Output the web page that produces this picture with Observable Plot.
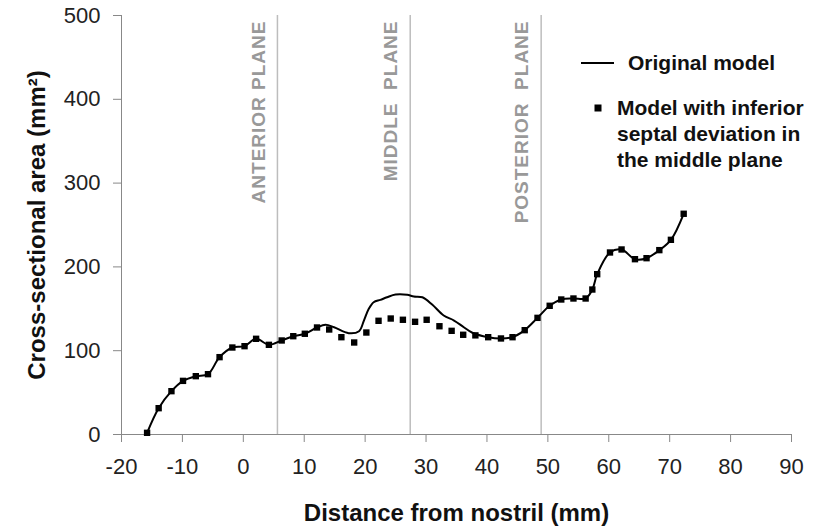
<!DOCTYPE html>
<html><head><meta charset="utf-8">
<script src="https://cdn.jsdelivr.net/npm/d3@7"></script>
<script src="https://cdn.jsdelivr.net/npm/@observablehq/plot@0.6"></script>
<style>
body{margin:0;background:#fff}
svg text{white-space:pre}
</style>
</head><body><div id="chart"></div>
<script>
// Model with inferior septal deviation (squares)
const deviatedX = [-15.8,-13.9,-11.8,-9.9,-7.8,-5.8,-3.9,-1.8,0.2,2.1,4.2,6.3,8.2,10.1,12.1,14.1,16.1,18.2,20.2,22.2,24.2,26.2,28.2,30.1,32.2,34.2,36.1,38.1,40.2,42.3,44.2,46.2,48.3,50.3,52.2,54.2,56.2,57.3,58.1,60.2,62.1,64.3,66.2,68.3,70.2,72.3];
const deviatedY = [2,31.4,51.7,64,69.6,72,92.3,103.8,105.4,114.2,107,112.2,117.3,120.2,127.7,125.3,116.1,109.8,121.7,135.7,138.4,136.9,134.5,136.9,129.2,123.7,119,118.3,116.1,114.6,116.1,124.5,139.2,153.6,161.1,162.3,162.3,173,191.3,217.2,220.8,209.2,210.4,220,232.3,263.4];
// Original model (line)
const originalX = [-15.8,-13.9,-11.8,-9.9,-7.8,-5.8,-3.9,-1.8,0.2,2.1,4.2,6.3,8.2,10.1,12.1,13.5,14.9,17.3,19.0,19.8,20.6,21.4,22.5,23.6,25.0,26.9,28.0,29.4,31.0,32.9,34.6,36.2,37.6,40.2,42.3,44.2,46.2,48.3,50.3,52.2,54.2,56.2,57.3,58.1,60.2,62.1,64.3,66.2,68.3,70.2,72.3];
const originalY = [2,31.4,51.7,64,69.6,72,92.3,103.8,105.4,114.2,107,112.2,117.3,120.2,127.7,130.9,128,120.9,123.3,136,150,157.9,160.7,163.8,167,166.7,164.7,163.8,155.1,142,136,128,121.4,116.1,114.6,116.1,124.5,139.2,153.6,161.1,162.3,162.3,173,191.3,217.2,220.8,209.2,210.4,220,232.3,263.4];
const planeX = [5.6, 27.4, 48.9];
const planeLabels = ["ANTERIOR PLANE", "MIDDLE  PLANE", "POSTERIOR  PLANE"];
const xTicks = [-20,-10,0,10,20,30,40,50,60,70,80,90];
const yTicks = [0,100,200,300,400,500];
const xTitle = "Distance from nostril (mm)";
const yTitle = "Cross-sectional area (mm²)";
const legendLine = "Original model";
const legendSquare = ["Model with inferior", "septal deviation in", "the middle plane"];

const deviated = deviatedX.map((x,i)=>({x, y: deviatedY[i]}));
const original = originalX.map((x,i)=>({x, y: originalY[i]}));
const planes = planeX.map((x,i)=>({x, label: planeLabels[i]}));

const plot = Plot.plot({
  width: 833, height: 530,
  marginLeft: 121, marginRight: 42, marginTop: 15, marginBottom: 96,
  style: {fontFamily: "'Liberation Sans', Arial, sans-serif", background: "#fff", color: "#222", overflow: "visible"},
  x: {domain: [-20, 90]},
  y: {domain: [0, 500]},
  marks: [
    Plot.ruleX(planes, {x: "x", y1: 0, y2: 500, stroke: "#bdbdbd", strokeWidth: 1.5}),
    Plot.text(planes, {x: "x", y: 500, text: "label", rotate: -90, textAnchor: "end", dx: -19, dy: 5,
      fill: "#999", fontSize: 19, fontWeight: "bold"}),
    Plot.ruleX([-20], {stroke: "#888", strokeWidth: 1}),
    Plot.ruleY([0], {stroke: "#888", strokeWidth: 1}),
    Plot.axisY({ticks: yTicks, tickSize: 8, tickPadding: 13, fontSize: 22, stroke: "#888", fill: "#222", label: null, tickFormat: d => String(d)}),
    Plot.axisX({ticks: xTicks, tickSize: 8, tickPadding: 16, fontSize: 22, stroke: "#888", fill: "#222", label: null, tickFormat: d => String(d)}),
    Plot.line(original, {x: "x", y: "y", curve: "catmull-rom", stroke: "#000", strokeWidth: 2}),
    Plot.dot(deviated, {x: "x", y: "y", symbol: "square", r: 3.6, fill: "#000", stroke: "none"}),
    Plot.text([xTitle], {frameAnchor: "bottom", text: d => d, dy: 86, fontSize: 24, fontWeight: "bold", fill: "#111"}),
    Plot.text([yTitle], {frameAnchor: "left", text: d => d, rotate: -90, textAnchor: "middle", dx: -84, fontSize: 24, fontWeight: "bold", fill: "#111"})
  ]
});

const svg = d3.select(plot);
svg.selectAll("text").filter(function(){ return /PLANE/.test(this.textContent); })
  .attr("letter-spacing", "1px");

const lg = svg.append("g").attr("font-family", "'Liberation Sans', Arial, sans-serif")
  .attr("font-weight", "bold").attr("font-size", 21).attr("fill", "#111").attr("text-anchor", "start");
lg.append("line").attr("x1", 581).attr("x2", 614).attr("y1", 63).attr("y2", 63)
  .attr("stroke", "#000").attr("stroke-width", 2);
lg.append("text").attr("x", 628).attr("y", 63).attr("dy", "0.35em").text(legendLine);
lg.append("rect").attr("x", 594.5).attr("y", 104.5).attr("width", 7).attr("height", 7).attr("fill", "#000");
legendSquare.forEach((t, i) => {
  lg.append("text").attr("x", 617).attr("y", 108 + i * 26).attr("dy", "0.35em").text(t);
});

document.getElementById("chart").appendChild(plot);
</script>
</body></html>
